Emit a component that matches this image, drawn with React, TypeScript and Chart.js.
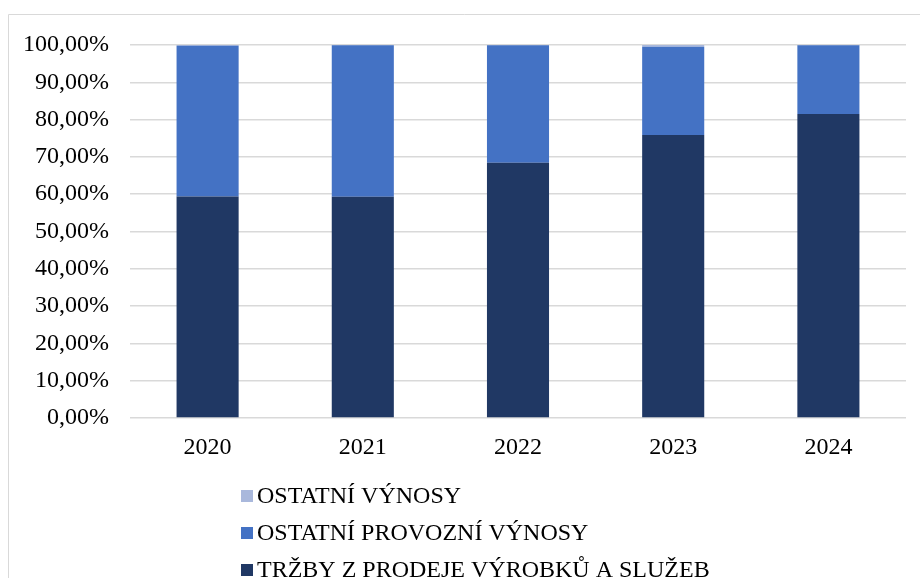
import React, { useEffect, useRef } from "react";
import { Chart, registerables } from "chart.js";

Chart.register(...registerables);

const years = ["2020", "2021", "2022", "2023", "2024"];
const trzby = [59.4, 59.3, 68.4, 75.9, 81.5];
const provozni = [40.4, 40.6, 31.5, 23.6, 18.4];
const ostatni = [0.2, 0.1, 0.1, 0.5, 0.1];
const seriesNames = [
  "TRŽBY Z PRODEJE VÝROBKŮ A SLUŽEB",
  "OSTATNÍ PROVOZNÍ VÝNOSY",
  "OSTATNÍ VÝNOSY",
];
const seriesColors = ["#203864", "#4472C4", "#A9B8DC"];

const FONT = "'Liberation Serif', 'Times New Roman', serif";

const frameAndLegend = {
  id: "frameAndLegend",
  afterDraw(chart: any) {
    const ctx = chart.ctx;
    ctx.save();
    ctx.strokeStyle = "#d9d9d9";
    ctx.lineWidth = 1;
    ctx.beginPath();
    ctx.moveTo(8.5, 600);
    ctx.lineTo(8.5, 14.5);
    ctx.lineTo(1000, 14.5);
    ctx.stroke();
    const ds = chart.data.datasets;
    const x0 = 241;
    const y0 = 496;
    const gap = 37;
    ctx.font = `24px ${FONT}`;
    ctx.textBaseline = "middle";
    ctx.textAlign = "left";
    for (let i = ds.length - 1, r = 0; i >= 0; i--, r++) {
      const cy = y0 + r * gap;
      ctx.fillStyle = ds[i].backgroundColor;
      ctx.fillRect(x0, cy - 6, 12, 12);
      ctx.fillStyle = "#000";
      ctx.fillText(ds[i].label, x0 + 16, cy + 1);
    }
    ctx.restore();
  },
};

export default function App() {
  const ref = useRef<HTMLCanvasElement>(null);
  useEffect(() => {
    if (!ref.current) return;
    const chart = new Chart(ref.current, {
      type: "bar",
      data: {
        labels: years,
        datasets: [
          { label: seriesNames[0], data: trzby, backgroundColor: seriesColors[0] },
          { label: seriesNames[1], data: provozni, backgroundColor: seriesColors[1] },
          { label: seriesNames[2], data: ostatni, backgroundColor: seriesColors[2] },
        ],
      },
      options: {
        animation: false,
        responsive: false,
        maintainAspectRatio: false,
        layout: { padding: { top: 45, right: 14, left: 0, bottom: 0 } },
        datasets: { bar: { categoryPercentage: 1, barPercentage: 0.4 } },
        plugins: {
          legend: { display: false },
          tooltip: { enabled: false },
        },
        scales: {
          x: {
            stacked: true,
            grid: { display: false, drawTicks: false },
            border: { display: false },
            ticks: { color: "#000", font: { family: FONT, size: 24 }, padding: 15 },
            afterFit: (s: any) => {
              s.height = 160;
            },
          },
          y: {
            stacked: true,
            min: 0,
            max: 100,
            ticks: {
              stepSize: 10,
              color: "#000",
              padding: 21,
              font: { family: FONT, size: 24 },
              callback: (v: any) => Number(v).toFixed(2).replace(".", ",") + "%",
            },
            grid: { color: "#d9d9d9", lineWidth: 1.5, drawTicks: false },
            border: { display: false },
            afterFit: (s: any) => {
              s.width = 130;
            },
          },
        },
      },
      plugins: [frameAndLegend],
    });
    return () => chart.destroy();
  }, []);
  return (
    <div style={{ position: "fixed", left: 0, top: 0, width: 920, height: 578, background: "#fff" }}>
      <canvas ref={ref} width={920} height={578} style={{ width: 920, height: 578 }} />
    </div>
  );
}
